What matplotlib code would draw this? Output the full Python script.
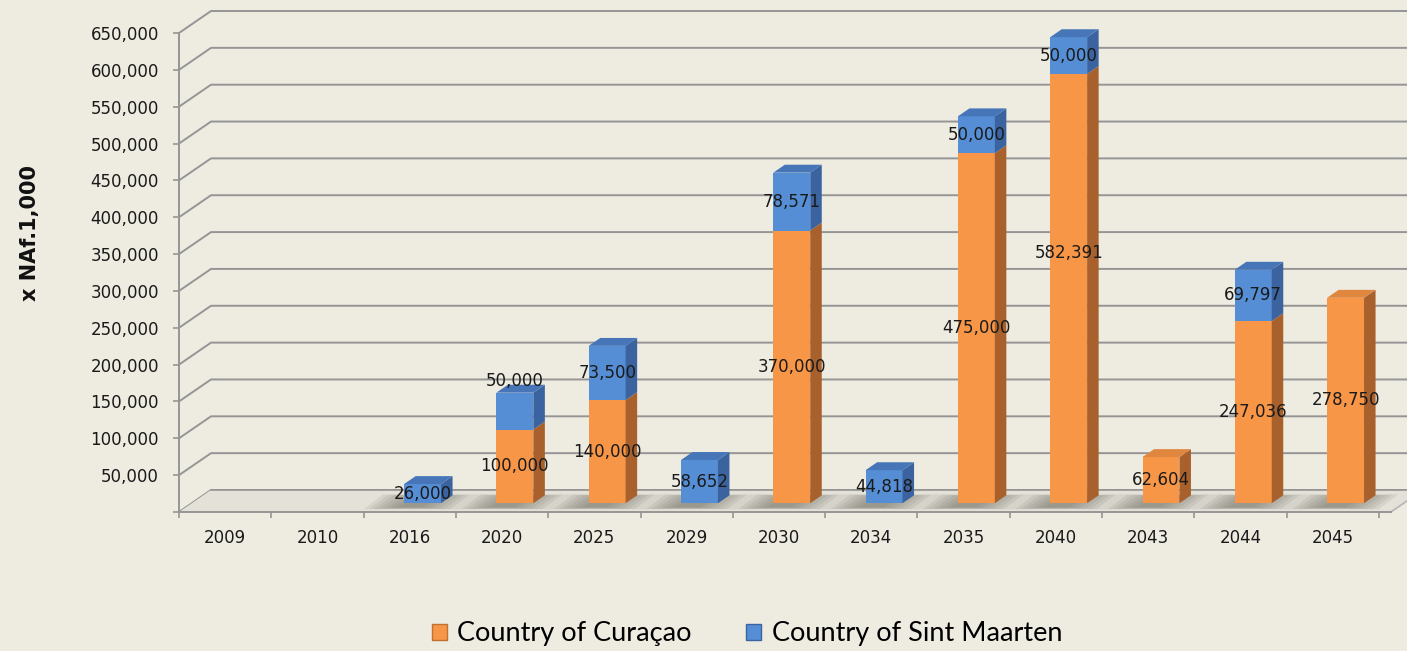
import matplotlib.pyplot as plt
from matplotlib.patches import Polygon, Patch
from matplotlib.ticker import FuncFormatter

years = [2009, 2010, 2016, 2020, 2025, 2029, 2030, 2034, 2035, 2040, 2043, 2044, 2045]
curacao = [0, 0, 0, 100000, 140000, 0, 370000, 0, 475000, 582391, 62604, 247036, 278750]
sint_maarten = [0, 0, 26000, 50000, 73500, 58652, 78571, 44818, 50000, 50000, 0, 69797, 0]
y_ticks = list(range(0, 650001, 50000))

# excel moved a couple of labels off the segment centre
label_nudge = {("cur", 2040): 48000, ("sxm", 2020): 41000}

BG = "#EEEBE1"
GRID = "#959595"
ORANGE = ("#F79646", "#A8612C", "#E0873F")   # front, side, top
BLUE = ("#558ED5", "#3A63A0", "#4676B8")

# fake 3d: depth offset in data units (x in categories, y in value)
DX = 0.347
DY = 29850
Z0, Z1 = 0.4, 0.76
W = 0.4
n = len(years)
xend = n + 0.13

fig = plt.figure(figsize=(14.07, 6.51), dpi=100, facecolor=BG)
ax = fig.add_axes([179 / 1407, 139 / 651, 1228 / 1407, 512 / 651])
ax.set_facecolor("none")
ax.set_xlim(0, 1228 / 92.3)
ax.set_ylim(0, 650000 + 33 / 479 * 650000)

# walls: diagonal on the side wall, then straight along the back
for v in y_ticks:
    ax.plot([0, DX, 20], [v, v + DY, v + DY], color=GRID, lw=1.4, zorder=1,
            solid_capstyle="butt")

# floor
ax.add_patch(Polygon([(0, 0), (xend, 0), (xend + DX, DY), (DX, DY)],
                     closed=True, fc="#E3E1D8", ec="none", zorder=1.5))
ax.plot([DX, xend + DX], [DY, DY], color=GRID, lw=1.2, zorder=1.6)
ax.plot([xend, xend + DX], [0, DY], color="#B5B5B5", lw=1.2, zorder=1.6,
        clip_on=False)


def box(x, lo, hi, cols, top=True):
    xl = x - W / 2 + Z0 * DX
    xr = x + W / 2 + Z0 * DX
    b = lo + Z0 * DY
    t = hi + Z0 * DY
    d = (Z1 - Z0)
    ax.bar(xl + W / 2, hi - lo, bottom=b, width=W, color=cols[0], zorder=3,
           linewidth=0)
    ax.add_patch(Polygon([(xr, b), (xr + d * DX, b + d * DY),
                          (xr + d * DX, t + d * DY), (xr, t)],
                         closed=True, fc=cols[1], ec="none", zorder=3))
    if top:
        ax.add_patch(Polygon([(xl, t), (xr, t), (xr + d * DX, t + d * DY),
                              (xl + d * DX, t + d * DY)],
                             closed=True, fc=cols[2], ec="none", zorder=3.1))


for i, yr in enumerate(years):
    x = i + 0.5
    c = curacao[i]
    s = sint_maarten[i]
    if c + s == 0:
        continue
    # soft shadow on the floor
    for k in range(7):
        e = 0.06 * k
        ax.add_patch(Polygon([(x - 0.5 + e, 0.12 * DY + e * 7000),
                              (x + 0.5 - e, 0.12 * DY + e * 7000),
                              (x + 0.5 - e + 0.6 * DX, 0.8 * DY - e * 7000),
                              (x - 0.5 + e + 0.6 * DX, 0.8 * DY - e * 7000)],
                             closed=True, fc="#5E5B54", ec="none", alpha=0.1,
                             zorder=2))
    if c > 0:
        box(x, 0, c, ORANGE, top=(s == 0))
    if s > 0:
        box(x, c, c + s, BLUE)
    lx = x + Z0 * DX
    if c > 0:
        ly = c / 2 + Z0 * DY + label_nudge.get(("cur", yr), 0)
        ax.text(lx, ly, f"{c:,}", ha="center", va="center", fontsize=12,
                color="#1A1A1A", zorder=5)
    if s > 0:
        ly = c + s / 2 + Z0 * DY + label_nudge.get(("sxm", yr), 0)
        ax.text(lx, ly, f"{s:,}", ha="center", va="center", fontsize=12,
                color="#1A1A1A", zorder=5)

# axes
for side in ["top", "right"]:
    ax.spines[side].set_visible(False)
ax.spines["left"].set_color(GRID)
ax.spines["left"].set_linewidth(1.4)
ax.spines["left"].set_bounds(0, 650000)
ax.spines["bottom"].set_color(GRID)
ax.spines["bottom"].set_linewidth(1.4)
ax.spines["bottom"].set_bounds(0, xend)
ax.spines["left"].set_zorder(4)
ax.spines["bottom"].set_zorder(4)

ax.set_yticks(y_ticks)
ax.yaxis.set_major_formatter(FuncFormatter(lambda v, p: f"{int(v):,}" if v > 0 else ""))
ax.tick_params(axis="y", length=4.5, width=1.2, color=GRID, pad=10,
               labelsize=12, labelcolor="#1A1A1A")

ax.set_xticks(range(n + 1))
ax.set_xticklabels([])
ax.set_xticks([i + 0.5 for i in range(n)], minor=True)
ax.set_xticklabels([str(y) for y in years], minor=True)
ax.tick_params(axis="x", which="major", length=4.5, width=1.2, color=GRID)
ax.tick_params(axis="x", which="minor", length=0, pad=12, labelsize=12,
               labelcolor="#1A1A1A")

fig.text(30 / 1407, 1 - 233 / 651, "x NAf.1,000", rotation=90, ha="center",
         va="center", fontsize=15, fontweight="bold", color="#111111")

handles = [Patch(fc=ORANGE[0], ec="#C0702F", label="Country of Curaçao"),
           Patch(fc=BLUE[0], ec="#3A63A0", label="Country of Sint Maarten")]
fig.legend(handles=handles, loc="center", bbox_to_anchor=(747 / 1407, 1 - 634 / 651),
           ncol=2, frameon=False, prop={"family": "Lato", "size": 19.5},
           handlelength=0.55, handleheight=0.55, handletextpad=0.4,
           columnspacing=2.0)

fig.savefig("out.png", dpi=100, facecolor=BG)
